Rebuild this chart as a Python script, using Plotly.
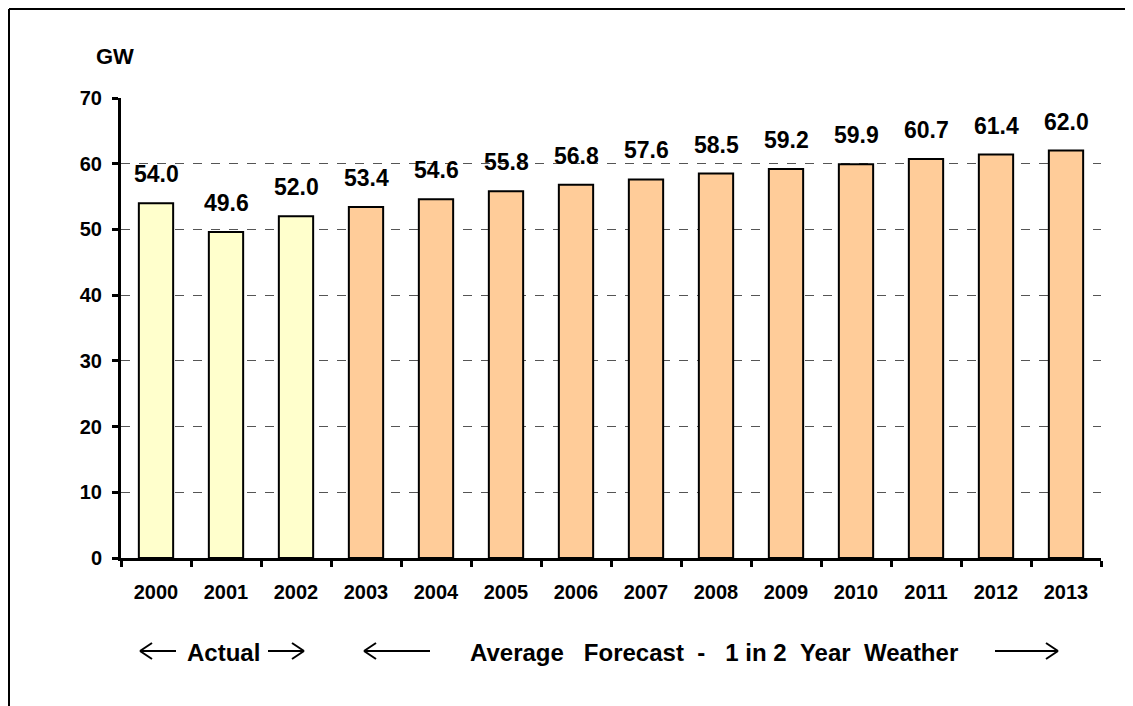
import plotly.graph_objects as go

years = ["2000", "2001", "2002", "2003", "2004", "2005", "2006",
         "2007", "2008", "2009", "2010", "2011", "2012", "2013"]
peak_gw = [54.0, 49.6, 52.0, 53.4, 54.6, 55.8, 56.8,
           57.6, 58.5, 59.2, 59.9, 60.7, 61.4, 62.0]
n_actual = 3

ACTUAL_COLOR = "#FFFFCC"
FORECAST_COLOR = "#FFCC99"
FONT = "Liberation Sans, Arial, sans-serif"

# the page puts the figure 8px in from the window corner
OFF = 8
W, H = 1133, 706
ML, MR, MT, MB = 113, 40, 90, 156
PW, PH = W - ML - MR, H - MT - MB


def px_x(x):
    return (x - OFF - ML) / PW


def px_y(y):
    return (H - MB - (y - OFF)) / PH


colors = [ACTUAL_COLOR if i < n_actual else FORECAST_COLOR for i in range(len(years))]

fig = go.Figure(go.Bar(
    x=years, y=peak_gw,
    marker=dict(color=colors, line=dict(color="black", width=2)),
))

# value labels sit a little above each bar (index position on the category axis)
for i, v in enumerate(peak_gw):
    fig.add_annotation(x=i, y=v, text=f"{v:.1f}", showarrow=False,
                       yanchor="bottom", yshift=14,
                       font=dict(size=23))

fig.update_layout(
    width=W, height=H,
    margin=dict(l=ML, r=MR, t=MT, b=MB),
    plot_bgcolor="white", paper_bgcolor="white",
    bargap=0.51, showlegend=False,
    font=dict(family=FONT, size=19, color="black", weight="bold"),
)

fig.update_yaxes(
    range=[0, 70], dtick=10, showgrid=True,
    gridcolor="#555555", griddash="dash", gridwidth=1,
    showline=True, linecolor="black", linewidth=3,
    ticks="outside", ticklen=6, tickwidth=3, tickcolor="black",
    tickfont=dict(size=20), ticklabelstandoff=6, zeroline=False,
)
fig.update_xaxes(
    type="category", range=[-0.5, len(years) - 0.5],
    showline=True, linecolor="black", linewidth=3,
    ticks="outside", ticklen=6, tickwidth=3, tickcolor="black",
    tickson="boundaries", tickfont=dict(size=20), ticklabelstandoff=14,
)

anns = [
    dict(text="GW", x=px_x(115), y=px_y(57), size=22),
    dict(text="Actual", x=px_x(223), y=px_y(652), size=24),
    dict(text="Average &nbsp;&nbsp;Forecast &nbsp;- &nbsp;&nbsp;1 in 2 &nbsp;Year &nbsp;Weather",
         x=px_x(714), y=px_y(652), size=24),
]
for a in anns:
    size = a.pop("size")
    fig.add_annotation(xref="paper", yref="paper", showarrow=False,
                       xanchor="center", yanchor="middle",
                       font=dict(size=size), **a)

# open-headed arrows under the axis
arrows = [(176, 140), (268, 304), (430, 364), (995, 1058)]
ay = 651
for x0, x1 in arrows:
    d = 1 if x1 > x0 else -1
    for seg in [(x0, ay, x1, ay), (x1, ay, x1 - d * 12, ay - 8), (x1, ay, x1 - d * 12, ay + 8)]:
        fig.add_shape(type="line", xref="paper", yref="paper",
                      x0=px_x(seg[0]), y0=px_y(seg[1]), x1=px_x(seg[2]), y1=px_y(seg[3]),
                      line=dict(color="black", width=2))

# frame around the chart (top and left edges visible)
fig.add_shape(type="line", xref="paper", yref="paper",
              x0=px_x(9), y0=px_y(9), x1=px_x(W + 20), y1=px_y(9),
              line=dict(color="black", width=2))
fig.add_shape(type="line", xref="paper", yref="paper",
              x0=px_x(9), y0=px_y(9), x1=px_x(9), y1=px_y(H + 20),
              line=dict(color="black", width=2))

fig.write_html("out.html")
